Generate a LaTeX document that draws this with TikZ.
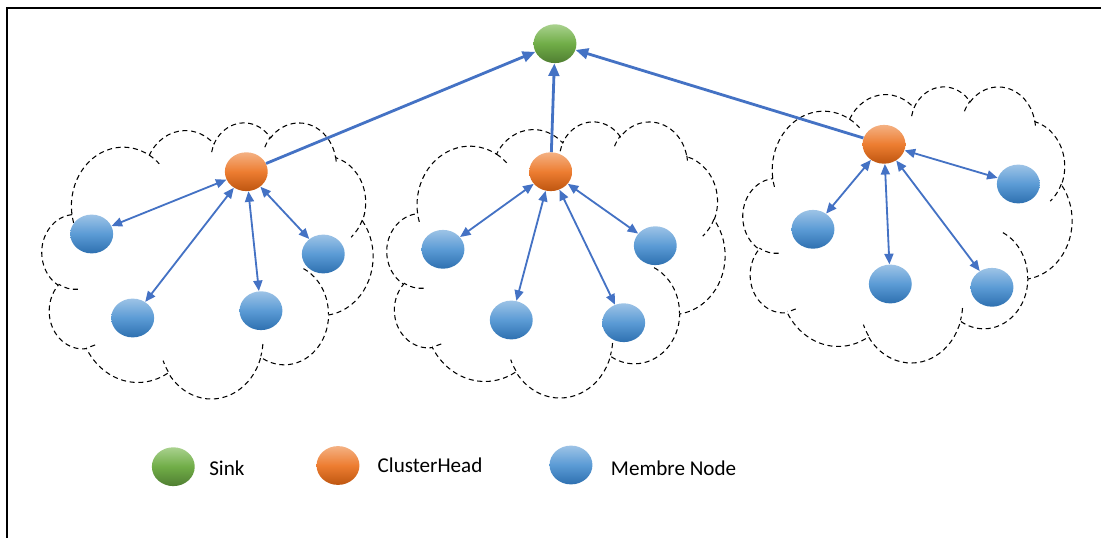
\documentclass[tikz,border=0pt]{standalone}
\usepackage{fontspec}
\setmainfont{Carlito}
\usetikzlibrary{shapes.geometric,arrows.meta}

\definecolor{linkblue}{RGB}{68,114,196}
\definecolor{sinkTop}{RGB}{169,209,142}
\definecolor{sinkMid}{RGB}{112,173,71}
\definecolor{sinkBot}{RGB}{80,126,50}
\definecolor{headTop}{RGB}{244,177,131}
\definecolor{headMid}{RGB}{237,125,49}
\definecolor{headBot}{RGB}{190,86,16}
\definecolor{membTop}{RGB}{157,195,230}
\definecolor{membMid}{RGB}{91,155,213}
\definecolor{membBot}{RGB}{46,112,176}

% Cloud outline built from elliptical arcs (43200-unit box, scaled by 1/1000).
% Arguments: x radius, y radius, start angle, sweep (angles measured as rays, y downwards).
\newcommand\cloudarc[4]{%
  \pgfmathsetmacro\cla{atan2((#1)*sin(#3),(#2)*cos(#3))}%
  \pgfmathsetmacro\clb{atan2((#1)*sin((#3)+(#4)),(#2)*cos((#3)+(#4)))}%
  \pgfmathsetmacro\cld{mod(\clb-(\cla)+720,360)}%
  \xdef\cloudacc{\cloudacc arc[x radius=#1, y radius=#2, start angle=\cla, delta angle=\cld]}%
}
\newcommand\cloudmove[2]{\xdef\cloudacc{\cloudacc (#1,#2)}}

\gdef\cloudacc{}
\cloudarc{6.753}{9.190}{-190.487483}{123.780533}
\cloudarc{5.333}{7.267}{-144.102383}{89.9452333}
\cloudarc{4.365}{5.945}{-145.807917}{99.7230167}
\cloudarc{4.857}{6.595}{-130.986067}{117.241733}
\cloudarc{5.333}{7.273}{-78.7088833}{109.026917}
\cloudarc{6.775}{9.220}{-46.26725}{130.269}
\cloudarc{5.785}{7.867}{0.62501667}{114.033333}
\cloudarc{6.752}{9.215}{22.4516}{115.17255}
\cloudarc{7.720}{10.543}{66.2426333}{75.7110167}
\cloudarc{4.360}{5.918}{-274.942083}{146.735567}
\cloudarc{4.345}{5.945}{-246.8285}{152.51885}
\global\let\cloudoutline\cloudacc

\gdef\cloudacc{}
\cloudmove{4.693}{26.177}\cloudarc{4.345}{5.945}{86.742}{26.4295}
\cloudmove{6.928}{34.899}\cloudarc{4.360}{5.918}{73.6104667}{11.4474667}
\cloudmove{16.478}{39.090}\cloudarc{6.752}{9.215}{137.62415}{14.0811}
\cloudmove{28.827}{34.751}\cloudarc{6.752}{9.215}{6.45326667}{15.99835}
\cloudmove{34.129}{22.954}\cloudarc{5.785}{7.867}{-70.29235}{70.9173667}
\cloudmove{41.798}{15.354}\cloudarc{5.333}{7.273}{30.3180333}{27.7515}
\cloudmove{38.324}{5.426}\cloudarc{4.857}{6.595}{-13.7443333}{14.8589}
\cloudmove{29.078}{3.952}\cloudarc{4.857}{6.595}{-149.18145}{18.1953667}
\cloudmove{22.141}{4.720}\cloudarc{4.365}{5.945}{-163.494267}{17.68635}
\cloudmove{14.000}{5.192}\cloudarc{6.753}{9.190}{-66.70695}{12.31935}
\cloudmove{4.127}{15.789}\cloudarc{6.753}{9.190}{157.65435}{11.8581667}
\global\let\cloudinner\cloudacc

% left, top, width, height of a cloud, in picture units
\newcommand\drawcloud[4]{%
  \begin{scope}[shift={(#1,#2)}, x=1cm, y=1cm,
                xscale={#3*0.025/43.2}, yscale={-#4*0.025/43.2}]
    \draw[cloudline] (3.9,14.37) \cloudoutline -- cycle;
    \draw[cloudline] \cloudinner;
  \end{scope}%
}

\tikzset{
  cloudline/.style={draw=black, line width=0.75pt, dash pattern=on 3.6pt off 2.6pt},
  ball/.style={ellipse, inner sep=0pt, minimum width=30.5pt, minimum height=27.6pt},
  sinkfill/.style={top color=sinkTop, bottom color=sinkBot, middle color=sinkMid},
  headfill/.style={top color=headTop, bottom color=headBot, middle color=headMid},
  membfill/.style={top color=membTop, bottom color=membBot, middle color=membMid},
  uplink/.style={draw=linkblue, line width=2pt, -{Triangle[length=9pt,width=7.6pt]}},
  memberlink/.style={draw=linkblue, line width=1.3pt,
    {Triangle[length=7.5pt,width=6.4pt]}-{Triangle[length=7.5pt,width=6.4pt]}},
  legendtext/.style={anchor=west, inner sep=0pt, font=\fontsize{15}{18}\selectfont},
}

\begin{document}
\begin{tikzpicture}[x=0.025cm, y=-0.025cm]
  \useasboundingbox (0,0) rectangle (1101,538);

  % frame
  \draw[line width=1.4pt] (7,538) |- (1101,8);

  % clusters
  \drawcloud{42}{122}{331}{276}
  \drawcloud{387}{121}{338}{276}
  \drawcloud{743}{86}{329}{276}

  % sink and cluster heads
  \node[ball, sinkfill] (sink) at (555,43.7) {};
  \node[ball, headfill] (h1) at (246.3,171.7) {};
  \node[ball, headfill] (h2) at (550.7,171.7) {};
  \node[ball, headfill] (h3) at (884,144.3) {};

  % member nodes
  \node[ball, membfill] (m1a) at (91.7,234) {};
  \node[ball, membfill] (m1b) at (132.7,318) {};
  \node[ball, membfill] (m1c) at (261,310.7) {};
  \node[ball, membfill] (m1d) at (323.3,254) {};

  \node[ball, membfill] (m2a) at (443,249.3) {};
  \node[ball, membfill] (m2b) at (511.3,320) {};
  \node[ball, membfill] (m2c) at (623.7,322.7) {};
  \node[ball, membfill] (m2d) at (655.3,245.7) {};

  \node[ball, membfill] (m3a) at (813,229.3) {};
  \node[ball, membfill] (m3b) at (890.3,284) {};
  \node[ball, membfill] (m3c) at (992,287.3) {};
  \node[ball, membfill] (m3d) at (1018.3,184) {};

  % links to the sink
  \draw[uplink] (h1) -- (sink);
  \draw[uplink] (h2) -- (sink);
  \draw[uplink] (h3) -- (sink);

  % links inside each cluster
  \foreach \m in {m1a,m1b,m1c,m1d} \draw[memberlink] (h1) -- (\m);
  \foreach \m in {m2a,m2b,m2c,m2d} \draw[memberlink] (h2) -- (\m);
  \foreach \m in {m3a,m3b,m3c,m3d} \draw[memberlink] (h3) -- (\m);

  % legend
  \node[ball, sinkfill] (ksink) at (173.3,466.7) {};
  \node[ball, headfill] (khead) at (338,465.5) {};
  \node[ball, membfill] (kmemb) at (571,465) {};
  \node[legendtext] (tsink) at (209,468) {Sink};
  \node[legendtext] (thead) at (377.4,465.7) {ClusterHead};
  \node[legendtext] (tmemb) at (610.7,468) {Membre Node};
\end{tikzpicture}
\end{document}
